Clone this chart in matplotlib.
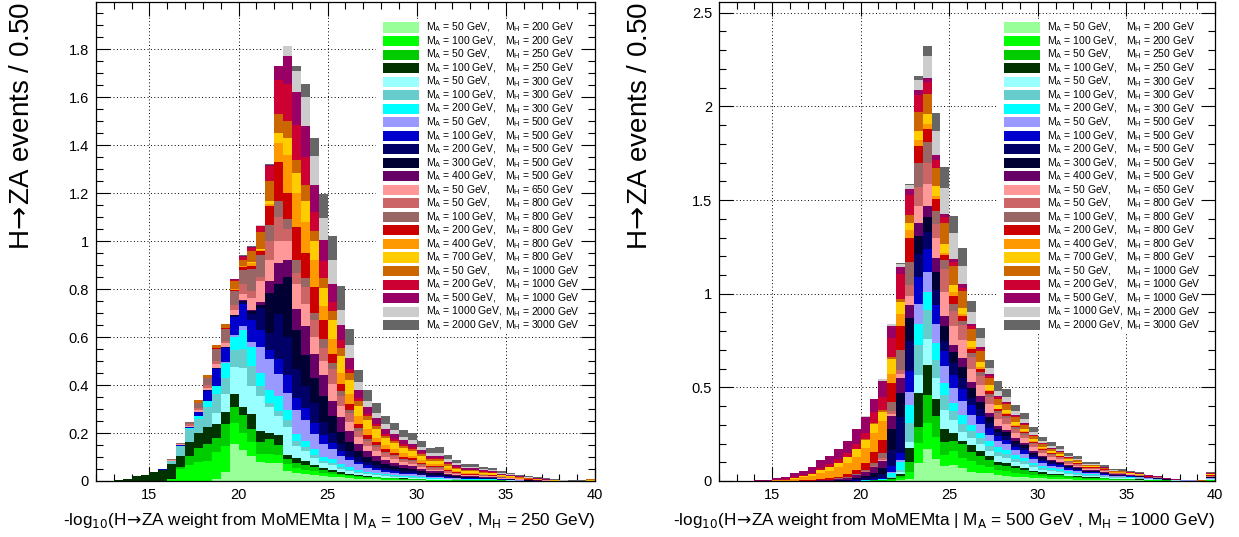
import numpy as np
import matplotlib
matplotlib.use("Agg")
import matplotlib.pyplot as plt
from matplotlib.ticker import MultipleLocator, FuncFormatter
from matplotlib.patches import Rectangle

plt.rcParams['font.family'] = ['Liberation Sans', 'DejaVu Sans']
plt.rcParams['mathtext.fontset'] = 'custom'
plt.rcParams['mathtext.rm'] = 'Liberation Sans'
plt.rcParams['mathtext.it'] = 'Liberation Sans:italic'
plt.rcParams['mathtext.bf'] = 'Liberation Sans:bold'

# ---------------- data ----------------
bin_edges = np.linspace(12, 40, 57)

mass_a = [50, 100, 50, 100, 50, 100, 200, 50, 100, 200, 300, 400, 50, 50, 100, 200, 400, 700, 50, 200, 500, 1000, 2000]
mass_h = [200, 200, 250, 250, 300, 300, 300, 500, 500, 500, 500, 500, 650, 800, 800, 800, 800, 800, 1000, 1000, 1000, 2000, 3000]
colors = ['#99ff99', '#00ff00', '#00cc00', '#003300', '#99ffff', '#66cccc', '#00ffff', '#9999ff',
          '#0000cc', '#000066', '#000033', '#660066', '#ff9999', '#cc6666', '#996666', '#cc0000',
          '#ff9900', '#ffcc00', '#cc6600', '#cc0033', '#990066', '#cccccc', '#666666']

# Left panel: weight under hypothesis MA=100, MH=250
L_50_200 = [0,0,0,0,0,0,0,0,0,0,0,0,0,.01,
            .036,.154,.128,.104,.08,.075,.075,.043,.033,.028,.026,.02,.018,.015,
            .012,.01,.008,.007,.006,.005,.004,.004,.003,.002,.002,.002,.001,.001,
            .001,.001,.001,.001,.001,.001,.001,.001,.001,0,0,0,0,0]
L_100_200 = [0,0,0,0,0,0,0,.002,.008,.05,.066,.078,.085,.11,
             .11,.089,.072,.057,.034,.036,.035,.027,.022,.019,.017,.013,.01,.008,
             .007,.006,.005,.004,.003,.003,.002,.002,.002,.001,.001,.001,.001,.001,
             .001,.001,.001,.001,0,0,0,0,0,0,0,0,0,0]
L_50_250 = [0,0,0,0,0,0,0,0,0,.01,.04,.06,.07,.06,
            .09,.067,.075,.057,.05,.064,.04,.02,.02,.021,.014,.012,.01,.008,
            .006,.005,.004,.004,.003,.003,.003,.002,.002,.002,.002,.001,.001,.001,
            .001,.001,.001,.001,.001,0,0,0,0,0,0,0,0,0]
L_100_250 = [0,.002,.005,.01,.02,.026,.037,.043,.063,.045,.055,.06,.07,.057,
             .05,.054,.035,.06,.046,.025,.04,.02,.02,.014,.011,.008,.007,.005,
             .004,.003,.003,.002,.002,.002,.002,.002,.001,.001,.001,.001,.001,.001,
             .001,.001,.001,0,0,0,0,0,0,0,0,0,0,0]
L_50_300 = [0,0,0,0,0,0,0,0,0,0,0,0,0,.048,
            .075,.11,.16,.116,.143,.11,.08,.115,.05,.043,.028,.02,.02,.015,
            .012,.01,.008,.007,.006,.005,.004,.004,.003,.003,.003,.002,.002,.001,
            .001,.001,.001,.001,.001,.001,0,0,0,0,0,0,0,0]
L_100_300 = [0,0,0,0,0,0,.002,.002,.014,.04,.055,.06,.085,.077,
             .07,.071,.082,.084,.043,.015,.02,.028,.02,.015,.014,.01,.01,.008,
             .006,.005,.004,.004,.003,.003,.002,.002,.002,.001,.001,.001,.001,.001,
             .001,.001,.001,0,0,0,0,0,0,0,0,0,0,0]
L_200_300 = [0,0,0,0,0,0,0,0,0,0,.005,.012,.022,.035,
             .06,.057,.078,.08,.054,.055,.063,.043,.03,.028,.022,.015,.015,.012,
             .01,.008,.007,.006,.005,.004,.004,.003,.003,.002,.002,.002,.001,.001,
             .001,.001,.001,.001,.001,0,0,0,0,0,0,0,0,0]
L_50_500 = [0,0,0,0,0,0,0,0,0,0,0,0,0,0,
            .003,.005,.015,.02,.11,.13,.093,.071,.1,.085,.064,.056,.045,.035,
            .03,.022,.016,.013,.011,.01,.009,.009,.007,.006,.006,.004,.003,.003,
            .003,.002,.002,.001,.001,.001,.001,0,0,0,0,0,0,0]
L_100_500 = [0,0,0,0,0,0,0,.001,0,.003,.005,.018,.045,.069,
             .06,.075,.092,.093,.07,.035,.064,.073,.05,.05,.044,.036,.025,.02,
             .015,.012,.01,.008,.007,.006,.005,.005,.004,.003,.003,.002,.002,.002,
             .002,.001,.001,.001,.001,0,0,0,0,0,0,0,0,0]
L_200_500 = [0,0,0,0,0,0,0,0,0,0,0,0,.002,.005,
             .005,.005,.01,.027,.09,.07,.185,.16,.12,.093,.085,.056,.04,.03,
             .025,.018,.015,.012,.01,.009,.008,.007,.006,.005,.005,.004,.003,.002,
             .002,.002,.002,.001,.001,.001,0,0,0,0,0,0,0,0]
L_300_500 = [0,0,0,0,0,0,0,0,0,0,0,0,0,0,
             0,.003,.005,.01,.015,.17,.125,.25,.165,.128,.105,.107,.07,.05,
             .035,.025,.02,.017,.014,.012,.011,.01,.008,.007,.007,.005,.004,.003,
             .003,.002,.002,.001,.001,.001,.001,.001,.001,0,0,0,0,0]
L_400_500 = [0,0,0,0,0,0,0,0,0,0,0,0,0,0,
             0,.002,.003,.005,.01,.05,.09,.07,.085,.121,.10,.087,.065,.06,
             .045,.03,.025,.02,.016,.014,.012,.011,.009,.007,.007,.005,.004,.003,
             .003,.002,.002,.001,.001,.001,.001,.001,0,0,0,0,0,0]
L_50_650 = [0,0,0,0,0,0,0,.001,.003,.005,.005,.008,.01,.018,
            .015,.02,.025,.05,.09,.085,.09,.08,.105,.092,.07,.06,.07,.045,
            .04,.03,.022,.02,.016,.014,.012,.011,.009,.007,.007,.005,.004,.003,
            .003,.003,.003,.002,.002,.001,.001,.001,.001,.001,0,0,0,0]
L_50_800 = [0,0,0,0,0,0,0,0,0,0,.005,.008,.01,.012,
            .01,.02,.04,.03,.015,.08,.10,.05,.045,.073,.07,.055,.06,.045,
            .035,.025,.02,.017,.014,.013,.011,.01,.008,.007,.007,.005,.004,.003,
            .003,.003,.002,.002,.001,.001,.001,.001,0,0,0,0,0,0]
L_100_800 = [0,0,0,0,0,0,0,0,.002,.005,.008,.022,.03,.05,
             .05,.06,.06,.09,.094,.065,.065,.04,.055,.035,.03,.035,.025,.02,
             .015,.01,.008,.007,.006,.005,.004,.004,.003,.003,.003,.002,.002,.001,
             .001,.001,.001,.001,.001,.001,0,0,0,0,0,0,0,0]
L_200_800 = [0,0,0,0,0,0,0,0,0,0,0,0,0,.002,
             .002,.005,.01,.015,.015,.08,.165,.11,.14,.105,.11,.08,.04,.03,
             .025,.02,.015,.013,.011,.01,.009,.008,.007,.006,.006,.005,.004,.003,
             .003,.003,.002,.002,.001,.001,.001,.001,0,0,0,0,0,0]
L_400_800 = [0,0,0,0,0,0,0,0,0,0,0,0,0,0,
             0,.003,.005,.01,.005,.01,.08,.16,.14,.13,.11,.06,.06,.045,
             .04,.03,.025,.02,.017,.015,.013,.012,.01,.008,.008,.006,.005,.004,
             .004,.003,.003,.002,.002,.001,.001,.001,.001,.001,.001,0,0,.002]
L_700_800 = [0,0,0,0,0,0,0,0,0,0,0,0,0,0,
             0,.002,.003,.005,.005,.01,.04,.07,.085,.085,.08,.075,.08,.07,
             .06,.045,.04,.035,.028,.025,.022,.02,.017,.014,.014,.011,.009,.007,
             .007,.006,.005,.004,.003,.003,.002,.002,.001,.001,.001,.001,0,.001]
L_50_1000 = [0,0,0,0,0,0,0,0,0,.002,.003,.01,.014,.015,
             .017,.03,.025,.045,.067,.085,.08,.07,.055,.07,.04,.04,.04,.035,
             .03,.02,.015,.013,.011,.01,.009,.008,.007,.006,.006,.005,.004,.003,
             .003,.003,.003,.002,.002,.002,.001,.001,.001,0,0,.001,.002,.004]
L_200_1000 = [0,0,0,0,0,0,0,0,0,0,0,0,0,0,
              0,.005,.01,.012,.025,.065,.14,.155,.145,.115,.08,.07,.035,.03,
              .015,.012,.01,.01,.008,.008,.007,.007,.006,.005,.005,.004,.003,.003,
              .003,.002,.002,.002,.001,.001,.001,0,0,0,0,0,0,0]
L_500_1000 = [0,0,0,0,0,0,0,0,0,0,0,0,0,0,
              0,.003,.003,.004,.003,.003,.06,.115,.135,.13,.115,.09,.075,.065,
              .045,.035,.03,.025,.02,.018,.016,.015,.012,.01,.01,.008,.007,.006,
              .006,.005,.004,.003,.003,.002,.002,.002,.001,.001,0,0,0,0]
L_1000_2000 = [0,0,0,0,0,0,0,0,0,0,0,0,0,0,
               0,.002,.002,.002,.002,.001,0,.045,.09,.12,.12,.09,.10,.06,
               .055,.03,.025,.02,.02,.018,.016,.015,.013,.011,.011,.009,.008,.006,
               .006,.005,.005,.004,.003,.003,.002,.002,.001,.001,.001,0,0,0]
L_2000_3000 = [0,0,0,0,0,0,0,0,0,0,0,0,0,0,
               0,.002,.002,.002,.001,.001,0,0,.02,.055,.075,.10,.10,.10,
               .065,.05,.045,.04,.035,.03,.028,.03,.025,.02,.023,.017,.015,.013,
               .01,.01,.009,.007,.006,.005,.004,.004,.003,.002,.001,.001,.001,.001]

# Right panel: weight under hypothesis MA=500, MH=1000
R_50_200 = [0,0,0,0,0,0,0,0,0,0,0,0,0,0,
            0,0,0,.001,.001,.002,.005,.01,.094,.17,.118,.08,.088,.07,
            .05,.042,.042,.031,.029,.024,.021,.017,.014,.012,.011,.009,.008,.006,
            .006,.005,.004,.004,.003,.003,.002,.002,.001,.001,.001,.001,.001,.002]
R_100_200 = [0,0,0,0,0,0,0,0,0,0,0,0,0,0,
             0,0,0,.001,.001,.003,.01,.04,.107,.138,.115,.06,.07,.055,
             .055,.045,.035,.026,.024,.02,.018,.014,.012,.01,.009,.007,.006,.005,
             .005,.004,.003,.003,.003,.002,.002,.001,.001,0,0,0,0,.002]
R_50_250 = [0,0,0,0,0,0,0,0,0,0,0,0,0,0,
            0,0,.001,.001,.002,.005,.01,.05,.089,.152,.115,.07,.055,.07,
            .05,.045,.035,.031,.029,.024,.021,.017,.014,.012,.011,.009,.008,.006,
            .006,.005,.004,.004,.003,.003,.002,.002,.001,.001,0,0,0,.002]
R_100_250 = [0,0,0,0,0,0,0,0,0,0,0,0,0,0,
             0,.001,.001,.001,.002,.005,.015,.075,.178,.16,.09,.07,.045,.02,
             .035,.03,.02,.015,.014,.012,.011,.008,.007,.006,.005,.004,.004,.003,
             .003,.003,.002,.002,.002,.001,.001,.001,0,0,0,0,0,.001]
R_50_300 = [0,0,0,0,0,0,0,0,0,0,0,0,0,0,
            0,0,0,0,0,.003,.01,.035,.098,.14,.11,.1,.07,.045,
            .04,.035,.03,.031,.029,.024,.021,.017,.014,.012,.011,.009,.008,.006,
            .006,.005,.004,.004,.003,.003,.002,.002,.001,.001,.001,.001,0,.002]
R_100_300 = [0,0,0,0,0,0,0,0,0,0,0,0,0,0,
             0,0,0,0,0,.005,.01,.1,.16,.152,.1,.08,.045,.045,
             .035,.03,.025,.021,.019,.016,.014,.011,.009,.008,.007,.006,.005,.004,
             .004,.003,.002,.002,.002,.002,.001,.001,0,0,0,0,0,.001]
R_200_300 = [0,0,0,0,0,0,0,0,0,0,0,0,0,0,
             0,.001,.002,.003,.005,.02,.04,.096,.114,.098,.09,.065,.045,.045,
             .035,.03,.025,.026,.024,.02,.018,.014,.012,.01,.009,.007,.006,.005,
             .005,.004,.003,.003,.003,.002,.002,.001,.001,0,0,0,0,.002]
R_50_500 = [0,0,0,0,0,0,0,0,0,0,0,0,0,0,
            0,0,0,0,0,.005,.01,.071,.107,.106,.1,.09,.08,.075,
            .055,.045,.035,.031,.029,.024,.021,.017,.014,.012,.011,.009,.008,.006,
            .006,.005,.004,.004,.003,.003,.002,.002,.001,.001,.001,.001,0,.002]
R_100_500 = [0,0,0,0,0,0,0,0,0,0,0,0,0,0,
             0,.002,.003,.004,.007,.03,.04,.108,.143,.124,.1,.08,.07,.065,
             .05,.045,.035,.026,.024,.02,.018,.014,.012,.01,.009,.007,.006,.005,
             .005,.004,.003,.003,.003,.002,.002,.001,.001,.001,0,0,0,.002]
R_200_500 = [0,0,0,0,0,0,0,0,0,0,0,0,0,.002,
             .003,.005,.008,.012,.02,.09,.19,.16,.12,.09,.08,.055,.06,.06,
             .04,.035,.028,.021,.019,.016,.014,.011,.009,.008,.007,.006,.005,.004,
             .004,.003,.002,.002,.002,.002,.001,.001,.001,0,0,0,0,.002]
R_300_500 = [0,0,0,0,0,0,0,0,0,0,0,0,.002,.003,
             .005,.008,.012,.02,.03,.11,.13,.125,.1,.08,.1,.08,.06,.06,
             .05,.04,.03,.021,.019,.016,.014,.011,.009,.008,.007,.006,.005,.004,
             .004,.003,.002,.002,.002,.002,.001,.001,.001,0,0,0,0,.002]
R_400_500 = [0,0,0,0,0,0,0,0,0,.002,.002,.004,.005,.007,
             .01,.015,.02,.03,.04,.07,.08,.07,.07,.06,.075,.05,.04,.045,
             .035,.03,.025,.015,.014,.012,.011,.008,.007,.006,.005,.004,.004,.003,
             .003,.003,.002,.002,.002,.001,.001,.001,0,0,0,0,0,.002]
R_50_650 = [0,0,0,0,0,0,0,0,0,0,0,0,0,0,
            0,0,.002,.003,.005,.01,.02,.05,.09,.117,.105,.13,.1,.1,
            .07,.06,.045,.036,.034,.028,.025,.02,.016,.014,.013,.01,.009,.007,
            .007,.006,.004,.004,.004,.003,.002,.002,.001,.001,.001,.001,.001,.002]
R_50_800 = [0,0,0,0,0,0,0,0,0,0,0,0,0,0,
            0,.002,.003,.005,.01,.015,.02,.055,.1,.113,.075,.12,.08,.08,
            .06,.05,.04,.031,.029,.024,.021,.017,.014,.012,.011,.009,.008,.006,
            .006,.005,.004,.004,.003,.003,.002,.002,.001,.001,0,0,0,.002]
R_100_800 = [0,0,0,0,0,0,0,0,0,0,0,0,.001,.002,
             .003,.005,.008,.015,.025,.05,.11,.125,.13,.11,.07,.05,.035,.02,
             .025,.02,.015,.01,.01,.008,.007,.006,.005,.004,.004,.003,.003,.002,
             .002,.002,.001,.001,.001,.001,.001,0,0,0,0,0,0,.001]
R_200_800 = [0,0,0,0,0,0,0,0,.002,.003,.004,.006,.008,.01,
             .015,.02,.035,.06,.07,.10,.13,.125,.09,.07,.06,.025,.045,.025,
             .02,.018,.014,.01,.01,.008,.007,.006,.005,.004,.004,.003,.003,.002,
             .002,.002,.001,.001,.001,.001,.001,.001,0,0,0,0,0,.003]
R_400_800 = [0,0,0,0,.001,.001,.003,.005,.01,.014,.02,.033,.04,.05,
             .06,.07,.08,.1,.1,.05,.06,.045,.03,.025,.02,.015,.02,.01,
             .008,.007,.006,.005,.005,.004,.004,.003,.002,.002,.002,.001,.001,.001,
             .001,.001,.001,.001,0,0,0,0,0,0,0,0,0,.003]
R_700_800 = [0,0,0,0,0,0,.001,.003,.005,.007,.01,.015,.018,.022,
             .03,.04,.045,.05,.05,.08,.065,.04,.05,.053,.05,.045,.04,.035,
             .035,.03,.025,.021,.019,.016,.014,.011,.009,.008,.007,.006,.005,.004,
             .004,.003,.002,.002,.002,.002,.001,.001,.001,0,0,0,0,.002]
R_50_1000 = [0,0,0,0,0,0,0,0,0,0,0,0,0,0,
             .002,.003,.004,.005,.01,.01,.015,.04,.10,.107,.1,.11,.1,.09,
             .065,.055,.042,.031,.029,.024,.021,.017,.014,.012,.011,.009,.008,.006,
             .006,.005,.004,.004,.003,.003,.002,.002,.001,.001,.001,.001,.001,.004]
R_200_1000 = [0,0,0,0,0,0,.002,.003,.005,.007,.009,.012,.015,.02,
              .022,.028,.03,.055,.07,.10,.135,.105,.09,.063,.04,.035,.02,.018,
              .015,.013,.01,.008,.007,.006,.005,.004,.003,.003,.003,.002,.002,.001,
              .001,.001,.001,.001,.001,.001,.001,0,0,0,0,0,0,.002]
R_500_1000 = [0,0,.001,.002,.003,.004,.009,.013,.02,.022,.028,.04,.044,.054,
              .065,.08,.09,.07,.085,.065,.035,.035,.03,.025,.025,.015,.015,.018,
              .012,.01,.008,.008,.007,.006,.005,.004,.003,.003,.003,.002,.002,.001,
              .001,.001,.001,.001,.001,.001,.001,.001,.001,.001,0,0,0,.002]
R_1000_2000 = [0,0,0,0,0,0,0,0,0,0,0,0,0,0,
               0,0,.002,.003,.01,.01,.02,.02,.05,.115,.13,.14,.14,.095,
               .06,.05,.035,.026,.024,.02,.018,.014,.012,.01,.009,.007,.006,.005,
               .005,.004,.003,.002,.002,.002,.001,.001,.001,0,0,0,0,.002]
R_2000_3000 = [0,0,0,0,0,0,0,0,0,0,0,0,0,0,
               0,0,0,0,.002,.002,.005,.005,.02,.057,.095,.11,.09,.097,
               .06,.05,.04,.052,.045,.035,.035,.025,.02,.02,.018,.015,.013,.01,
               .008,.009,.007,.006,.005,.004,.003,.003,.002,.002,.002,.002,.001,.004]

left_series = [L_50_200, L_100_200, L_50_250, L_100_250, L_50_300, L_100_300, L_200_300,
               L_50_500, L_100_500, L_200_500, L_300_500, L_400_500, L_50_650, L_50_800,
               L_100_800, L_200_800, L_400_800, L_700_800, L_50_1000, L_200_1000,
               L_500_1000, L_1000_2000, L_2000_3000]
right_series = [R_50_200, R_100_200, R_50_250, R_100_250, R_50_300, R_100_300, R_200_300,
                R_50_500, R_100_500, R_200_500, R_300_500, R_400_500, R_50_650, R_50_800,
                R_100_800, R_200_800, R_400_800, R_700_800, R_50_1000, R_200_1000,
                R_500_1000, R_1000_2000, R_2000_3000]

ylabel_text = r"H$\!\rightarrow\!$ZA events / 0.50"
xlabel_left = r"-log$_{10}$(H$\!\rightarrow\!$ZA weight from MoMEMta | M$_{\mathrm{A}}$ = 100 GeV , M$_{\mathrm{H}}$ = 250 GeV)"
xlabel_right = r"-log$_{10}$(H$\!\rightarrow\!$ZA weight from MoMEMta | M$_{\mathrm{A}}$ = 500 GeV , M$_{\mathrm{H}}$ = 1000 GeV)"

# ---------------- drawing ----------------
W, H = 1239, 537
fig = plt.figure(figsize=(W / 100, H / 100), dpi=100)
fig.patch.set_facecolor('white')

ax_l = fig.add_axes([96 / W, (H - 481) / H, (595 - 96) / W, (481 - 2) / H])
ax_r = fig.add_axes([719 / W, (H - 481) / H, (1215 - 719) / W, (481 - 2) / H])


def draw_panel(ax, series, ymaj, ymin, xlabel, ylab_x):
    cum = np.zeros(len(bin_edges) - 1)
    for vals, col in zip(series, colors):
        v = np.asarray(vals, dtype=float)
        assert len(v) == len(bin_edges) - 1
        top = cum + v
        ax.stairs(top, bin_edges, baseline=cum.copy(), fill=True, color=col,
                  linewidth=0, antialiased=False, zorder=1)
        cum = top
    ax.set_xlim(12, 40)
    ax.set_ylim(0, 1.1 * cum.max())
    ax.set_axisbelow(True)
    ax.xaxis.set_major_locator(MultipleLocator(5))
    ax.xaxis.set_minor_locator(MultipleLocator(1))
    ax.yaxis.set_major_locator(MultipleLocator(ymaj))
    ax.yaxis.set_minor_locator(MultipleLocator(ymin))
    ax.yaxis.set_major_formatter(FuncFormatter(lambda v, p: "%g" % round(v, 4)))
    ax.xaxis.set_major_formatter(FuncFormatter(lambda v, p: "%g" % round(v, 4)))
    ax.tick_params(which='both', direction='in', top=True, right=True,
                   labelsize=10.5, color='black', pad=5)
    ax.tick_params(which='major', length=10, width=0.8)
    ax.tick_params(which='minor', length=5, width=0.8)
    ax.grid(which='major', color='black', linestyle=(0, (1, 2.5)), linewidth=0.7)
    for s in ax.spines.values():
        s.set_linewidth(0.9)
        s.set_color('black')
        s.set_zorder(5)

    ax.set_xlabel(xlabel, fontsize=12.3, loc='right')
    ax.xaxis.set_label_coords(1.0, -(520 - 481) / 479)
    ax.xaxis.label.set_va('center')
    ax.xaxis.label.set_math_fontfamily('dejavusans')
    ax.set_ylabel(ylabel_text, fontsize=20, loc='top')
    ax.yaxis.set_label_coords(ylab_x, 1.0)
    ax.yaxis.label.set_va('center')
    ax.yaxis.label.set_math_fontfamily('dejavusans')

    # legend (ROOT-like, white background, no frame)
    ax.add_patch(Rectangle((0.562, 0.309), 0.41, 0.655, transform=ax.transAxes,
                           facecolor='white', edgecolor='none', zorder=3))
    y0 = 1 - (27.5 - 2) / 479
    dy = 13.53 / 479
    for i, col in enumerate(colors):
        yc = y0 - i * dy
        ax.add_patch(Rectangle((0.575, yc - 0.0105), 0.072, 0.021, transform=ax.transAxes,
                               facecolor=col, edgecolor='none', zorder=4))
        ax.text(0.661, yc, r"M$_{\mathrm{A}}$ = %d GeV," % mass_a[i], transform=ax.transAxes,
                fontsize=7.5, va='center', ha='left', zorder=4)
        ax.text(0.820, yc, r"M$_{\mathrm{H}}$ = %d GeV" % mass_h[i], transform=ax.transAxes,
                fontsize=7.5, va='center', ha='left', zorder=4)


draw_panel(ax_l, left_series, 0.2, 0.05, xlabel_left, -(96 - 22) / 499)
draw_panel(ax_r, right_series, 0.5, 0.1, xlabel_right, -(719 - 640) / 496)

fig.savefig("out.png", dpi=100, facecolor='white')
